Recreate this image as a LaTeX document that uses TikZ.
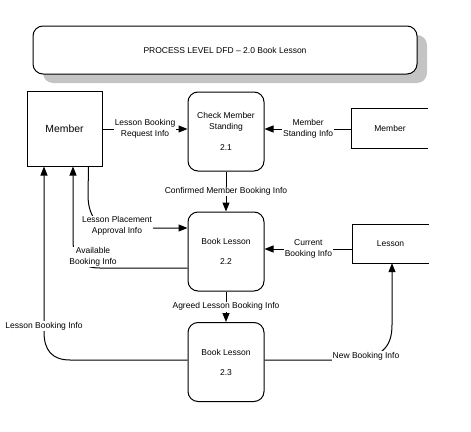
\documentclass[tikz,border=0pt]{standalone}
\usepackage{fontspec}
\setmainfont{Liberation Sans}
\usetikzlibrary{arrows.meta}
\begin{document}
\begin{tikzpicture}[x=1pt,y=-1pt,
  every node/.style={font=\fontsize{8.5}{11}\selectfont},
  proc/.style={draw, line width=1pt, rounded corners=10pt, minimum width=76pt, minimum height=79pt, align=center, inner sep=0pt},
  ext/.style={draw, line width=1pt, minimum width=75pt, minimum height=75pt, inner sep=0pt, font=\fontsize{10.4}{12}\selectfont},
  store/.style={minimum width=76pt, minimum height=39pt, inner sep=0pt},
  flow/.style={line width=1pt, -{Triangle[length=9pt,width=7pt]}},
  lab/.style={fill=white, inner sep=1pt, align=center},
]
\useasboundingbox (0,0) rectangle (471,431);
% title
\fill[black!23, rounded corners=10pt] (43,35) rectangle (427,83);
\node[draw, line width=1pt, fill=white, rounded corners=10pt, minimum width=384pt, minimum height=48pt] (title) at (225,50) {PROCESS LEVEL DFD -- 2.0 Book Lesson};
% nodes
\node[ext] (mem) at (64.5,128.5) {Member};
\node[proc] (p21) at (226,131.5) {Check Member\\Standing\\[10pt]2.1};
\node[proc] (p22) at (226,251.5) {Book Lesson\\[9pt]2.2};
\node[proc] (p23) at (226,362) {Book Lesson\\[9pt]2.3};
\node[store] (mem2) at (390,128.5) {Member};
\node[store, minimum height=38pt] (les) at (390.5,244) {Lesson};
\draw[line width=1pt] (mem2.north east) -- (mem2.north west) -- (mem2.south west) -- (mem2.south east);
\draw[line width=1pt] (les.north east) -- (les.north west) -- (les.south west) -- (les.south east);
% flows
\draw[flow] ([yshift=-0.5pt]mem.east) -- ([yshift=-0.5pt]mem.east -| p21.west)
  node[lab, midway] {Lesson Booking\\Request Info};
\draw[flow] ([yshift=-0.5pt]mem2.west) -- ([yshift=-0.5pt]mem2.west -| p21.east)
  node[lab, midway] {Member\\Standing Info};
\draw[flow] (p21.south) -- (p22.north)
  node[lab, midway] {Confirmed Member Booking Info};
\draw[flow] (p22.south) -- (p23.north)
  node[lab, midway] {Agreed Lesson Booking Info};
\draw[flow] ([yshift=-5pt]les.west) -- ([yshift=-5pt]les.west -| p22.east)
  node[lab, midway] {Current\\Booking Info};
\draw[flow] ([xshift=-14pt]mem.south east) -- (88,195) .. controls (88,214) and (96,228) .. (115,228) -- ([yshift=23.5pt]p22.west);
\node[lab] (l1) at (117,226) {Lesson Placement\\Approval Info};
\draw[flow] ([yshift=-16.5pt]p22.west) -- (100,268) .. controls (80,268) and (73,258) .. (73,240) -- ([xshift=8.5pt]mem.south);
\node[lab] (l2) at (93,257) {Available\\Booking Info};
\draw[flow] ([yshift=2pt]p23.west) -- (70,360) .. controls (52,360) and (44,350) .. (44,332) -- ([xshift=-20.5pt]mem.south);
\node[lab] (l3) at (44,326) {Lesson Booking Info};
\draw[flow] ([yshift=2pt]p23.east) -- (345,360) .. controls (382,360) and (392,347) .. (392,325) -- ([xshift=1.5pt]les.south);
\node[lab] (l4) at (366,356) {New Booking Info};
\end{tikzpicture}
\end{document}
